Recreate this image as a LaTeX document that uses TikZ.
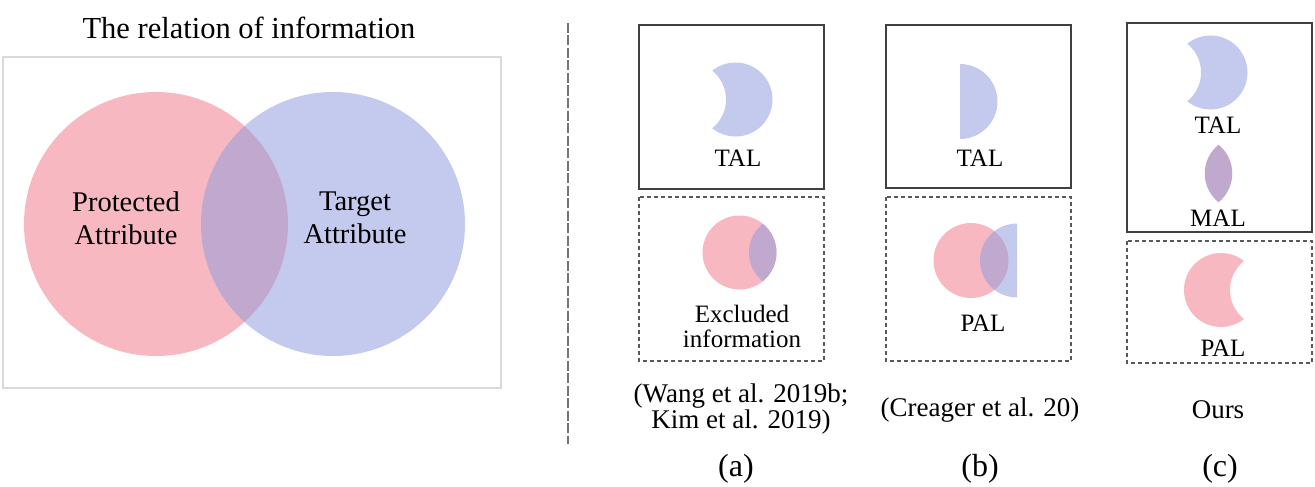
\documentclass[tikz,border=0pt]{standalone}
\usepackage{fontspec}
\setmainfont{Liberation Serif}
\usetikzlibrary{positioning}
\definecolor{pal}{RGB}{248,184,193}
\definecolor{tal}{RGB}{196,202,238}
\definecolor{mal}{RGB}{192,168,207}
\def\rr{37pt}
\tikzstyle{txt}=[inner sep=0pt,align=center,font=\fontsize{25}{25}\selectfont]
\tikzstyle{captxt}=[inner sep=0pt,align=center,font=\fontsize{27}{26}\selectfont]
\tikzstyle{sublbl}=[inner sep=0pt,font=\fontsize{32}{32}\selectfont]
\tikzstyle{big}=[inner sep=0pt,align=center,font=\fontsize{28.5}{33}\selectfont]
\tikzstyle{solidbox}=[draw=black!75,line width=1.3pt]
\tikzstyle{dashbox}=[draw=black!65,line width=1.1pt,dash pattern=on 4pt off 3pt]
% circle at (#1,#2) with a circle shifted by #3 cut away
\newcommand{\newMoon}[4]{\begin{scope}[even odd rule]
  \clip ({#1-45},{#2-45}) rectangle ({#1+45},{#2+45}) ({#1+#3},#2) circle (\rr);
  \fill[#4] (#1,#2) circle (\rr);\end{scope}}
% common part of the circles at (#1,#3) and (#2,#3)
\newcommand{\newLens}[4]{\begin{scope}\clip (#1,#3) circle (\rr);
  \fill[#4] (#2,#3) circle (\rr);\end{scope}}

\begin{document}
\begin{tikzpicture}[x=1pt,y=-1pt]
    \useasboundingbox (0,0) rectangle (1315,487);
    % the relation of information
    \node[big,font=\fontsize{30.5}{30}\selectfont](title) at (249,28) {The relation of information};
    \draw[draw=black!15,line width=1.5pt] (3,57) rectangle (501,388);
    \fill[pal] (156,224) circle (132pt);
    \fill[tal] (333,224) circle (132pt);
    \begin{scope}\clip (156,224) circle (132pt); \fill[mal] (333,224) circle (132pt);\end{scope}
    \node[big](prot) at (126,218) {Protected\\Attribute};
    \node[big](targ) at (355,218) {Target\\Attribute};
    \coordinate (cut1) at (568,23);
    \coordinate (cut2) at (568,444);
    \draw[black!55,line width=2pt,dash pattern=on 10pt off 2.5pt] (cut1) -- (cut2);
    % (a)
    \draw[solidbox] (639,25) rectangle (824,189);
    \draw[dashbox] (639,197) rectangle (824,361);
    \newMoon{735.5}{99.5}{-46.5}{tal}
    \node[txt](talA) at (738,158) {TAL};
    \fill[pal] (739.5,252.5) circle (\rr);
    \newLens{739.5}{786}{252.5}{mal}
    \node[txt](exclA) at (742,326) {Excluded\\information};
    \node[captxt](capA) at (741,409) {(Wang et al. 2019b;\\Kim et al. 2019)};
    \node[sublbl](labA) at (736,469) {(a)};
    % (b)
    \draw[solidbox] (886,25) rectangle (1071,188);
    \draw[dashbox] (886,197) rectangle (1071,361);
    \begin{scope}\clip (960,60) rectangle (1000,145); \fill[tal] (960,101.5) circle (37.5pt);\end{scope}
    \node[txt](talB) at (980,158) {TAL};
    \fill[pal] (971,260.5) circle (37.5pt);
    \begin{scope}\clip (975,215) rectangle (1017,305);
      \fill[tal] (1017,260.5) circle (\rr);
      \clip (971,260.5) circle (37.5pt);
      \fill[mal] (1017,260.5) circle (\rr);
    \end{scope}
    \node[txt](palB) at (983,323) {PAL};
    \node[captxt](capB) at (980,410) {(Creager et al. 20)};
    \node[sublbl](labB) at (980,469) {(b)};
    % (c)
    \draw[solidbox] (1127,23) rectangle (1312,232);
    \draw[dashbox] (1127,241) rectangle (1312,363);
    \newMoon{1210.5}{72.5}{-46.5}{tal}
    \node[txt](talC) at (1218,125) {TAL};
    \newLens{1195.25}{1241.75}{173.5}{mal}
    \node[txt](malC) at (1218,218) {MAL};
    \newMoon{1221}{290}{46}{pal}
    \node[txt](palC) at (1223,348) {PAL};
    \node[captxt](capC) at (1218,410) {Ours};
    \node[sublbl](labC) at (1220,469) {(c)};
\end{tikzpicture}
\end{document}
